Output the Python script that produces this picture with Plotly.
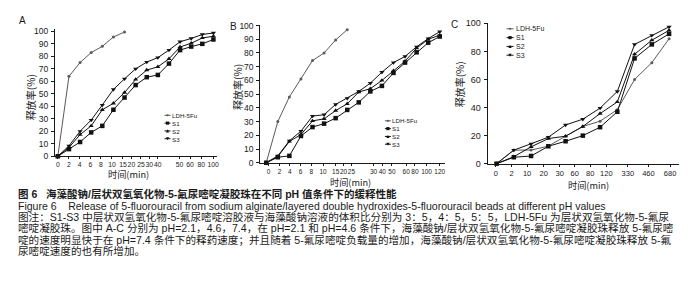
import plotly.graph_objects as go

W, H = 692, 282

# ---------------- data ----------------
series_names = ["LDH-5Fu", "S1", "S2", "S3"]

a_time = ["0", "2", "4", "6", "8", "10", "15", "20", "25", "30", "40", "50", "60", "80", "100"]
a_ldh = [0, 64, 75, 83, 88, 95.5, 99.5]
a_s1 = [0, 5.7, 11.4, 19.1, 24.3, 37.2, 47, 57, 63.3, 65.1, 74.2, 85, 87.8, 90, 93.5]
a_s2 = [0, 7, 17.3, 24.3, 37.2, 42.4, 51, 61.5, 69, 71.6, 78, 87.5, 90.5, 94.7, 96.1]
a_s3 = [0, 8.3, 20, 29, 41, 53.5, 62, 70, 75.4, 79, 85, 91.7, 94.3, 97.5, 98.7]

b_time = ["0", "2", "4", "6", "8", "10", "15", "20", "25", "30", "40", "50", "60", "80", "100", "120"]
b_ldh = [0, 30, 48, 61, 74.5, 80, 89.5, 97]
b_s1 = [0, 4, 5, 19.5, 26, 28.5, 32.5, 38.5, 44, 52, 56, 65.5, 73, 80.5, 87.5, 92]
b_s2 = [0, 4.5, 15.5, 20.5, 30.5, 32, 38, 43, 51.5, 54, 60, 67, 74, 83.5, 90, 93]
b_s3 = [0, 5, 16, 23, 34, 35, 42.5, 47, 52, 58, 66, 73, 77.5, 84.5, 90.5, 95.5]

c_time = ["0", "2", "10", "20", "30", "60", "80", "120", "330", "460", "680"]
c_ldh = [0, 9.7, 9.7, 12.5, 19.6, 26.5, 30.3, 38.5, 60, 72, 89]
c_s1 = [0, 4.6, 5.5, 12.4, 16, 20, 26, 37, 75, 85, 92.5]
c_s2 = [0, 5, 12, 17.9, 19.6, 26.5, 35.7, 44, 78, 88, 95]
c_s3 = [0, 9.7, 14.2, 18.9, 27.6, 31.7, 39.6, 51.5, 85, 91.5, 97.5]

y_title = "释放率(%)"
x_title = "时间(min)"

caption = [
    "<b>图 6\u00a0\u00a0\u00a0海藻酸钠/层状双氢氧化物-5-氟尿嘧啶凝胶珠在不同 pH 值条件下的缓释性能</b>",
    "Figure 6\u00a0\u00a0\u00a0\u00a0Release of 5-fluorouracil from sodium alginate/layered double hydroxides-5-fluorouracil beads at different pH values",
    "图注：S1-S3 中层状双氢氧化物-5-氟尿嘧啶溶胶液与海藻酸钠溶液的体积比分别为 3：5，4：5，5：5，LDH-5Fu 为层状双氢氧化物-5-氟尿",
    "嘧啶凝胶珠。图中 A-C 分别为 pH=2.1，4.6，7.4，在 pH=2.1 和 pH=4.6 条件下，海藻酸钠/层状双氢氧化物-5-氟尿嘧啶凝胶珠释放 5-氟尿嘧",
    "啶的速度明显快于在 pH=7.4 条件下的释药速度；并且随着 5-氟尿嘧啶负载量的增加，海藻酸钠/层状双氢氧化物-5-氟尿嘧啶凝胶珠释放 5-氟",
    "尿嘧啶速度的也有所增加。",
]

# ---------------- layout constants (pixels) ----------------
# tick label positions (in category-index units) as printed in the original
A_TICK_POS = [0, 0.99, 1.96, 2.93, 3.88, 4.87, 5.86, 6.62, 7.48, 8.23, 9.0, 10.95, 11.9, 12.9, 13.97]
B_TICK_POS = [0.2, 1.14, 2.04, 2.96, 3.89, 4.91, 6.0, 6.68, 7.36, 9.28, 10.03, 10.87, 12.1, 12.85, 13.86, 15.0]
C_TICK_POS = [-0.04, 0.87, 1.77, 2.73, 3.66, 4.53, 5.43, 6.36, 7.61, 8.8, 10.06]

PANELS = [
    dict(xl=47, xr=210, x0=50, xN=206, yb=149, y100=20, yt=18, dt=10, yf=8.5, xf=6.8),
    dict(xl=253, xr=438, x0=259, xN=433, yb=155.7, y100=14, yt=13, dt=10, yf=8.5, xf=6.5),
    dict(xl=481, xr=673, x0=490, xN=663, yb=156.7, y100=11.7, yt=11, dt=20, yf=9, xf=7.5),
]

FONT = "Liberation Sans, Arial, Noto Sans CJK SC, sans-serif"
CJK = "Noto Sans CJK SC, Liberation Sans, sans-serif"
INK = "#1a1a1a"


def px(x):
    return x / W


def py(y):
    return 1 - y / H


fig = go.Figure()

panel_data = [
    (a_time, [a_ldh, a_s1, a_s2, a_s3], A_TICK_POS),
    (b_time, [b_ldh, b_s1, b_s2, b_s3], B_TICK_POS),
    (c_time, [c_ldh, c_s1, c_s2, c_s3], C_TICK_POS),
]

styles = {
    "LDH-5Fu": dict(symbol="circle", size=3, color="#5a5a5a"),
    "S1": dict(symbol="square", size=4.5, color="#111111"),
    "S2": dict(symbol="triangle-up", size=4.5, color="#111111"),
    "S3": dict(symbol="triangle-down", size=4.5, color="#111111"),
}

for k, ((times, sers, tpos), P) in enumerate(zip(panel_data, PANELS)):
    xa = "x" if k == 0 else f"x{k+1}"
    ya = "y" if k == 0 else f"y{k+1}"
    n = len(times)
    step = (P["xN"] - P["x0"]) / (n - 1)
    xr = [(P["xl"] - P["x0"]) / step, (P["xr"] - P["x0"]) / step]
    per = (P["yb"] - P["y100"]) / 100
    yr = [0, (P["yb"] - P["yt"]) / per]
    for name, s in zip(series_names, sers):
        st = styles[name]
        fig.add_trace(go.Scatter(
            x=list(range(len(s))), y=s, mode="lines+markers", name=name,
            xaxis=xa, yaxis=ya, showlegend=False, cliponaxis=False,
            line=dict(color=st["color"], width=1),
            marker=dict(symbol=st["symbol"], size=st["size"], color=st["color"],
                        line=dict(width=0)),
        ))
    xkey = "xaxis" if k == 0 else f"xaxis{k+1}"
    ykey = "yaxis" if k == 0 else f"yaxis{k+1}"
    fig.layout[xkey] = dict(
        domain=[px(P["xl"]), px(P["xr"])], range=xr, anchor=ya,
        showline=True, linecolor=INK, linewidth=1, showgrid=False, zeroline=False,
        tickmode="array", tickvals=tpos, ticktext=times, ticks="outside",
        ticklen=2, tickwidth=1, tickcolor=INK, tickangle=0,
        tickfont=dict(family=FONT, size=P["xf"], color=INK), fixedrange=True,
    )
    fig.layout[ykey] = dict(
        domain=[py(P["yb"]), py(P["yt"])], range=yr, anchor=xa,
        showline=True, linecolor=INK, linewidth=1, showgrid=False, zeroline=False,
        tickmode="linear", tick0=0, dtick=P["dt"], ticks="outside",
        ticklen=3, tickwidth=1, tickcolor=INK, ticklabelstandoff=1,
        tickfont=dict(family=FONT, size=P["yf"], color=INK), fixedrange=True,
    )

annotations = []
shapes = []


def text(x, y, t, size, xanchor="center", family=FONT, angle=0, color=INK, align="center"):
    annotations.append(dict(
        x=px(x), y=py(y), xref="paper", yref="paper", text=t, showarrow=False,
        xanchor=xanchor, yanchor="middle", textangle=angle, align=align,
        borderpad=0,
        font=dict(family=family, size=size, color=color),
    ))


# panel letters
text(15, 9, "A", 10)
text(226, 15, "B", 10)
text(448, 13, "C", 10)

# axis titles
text(22, 88, y_title, 10, family=CJK, angle=-90)
text(230, 77, y_title, 10, family=CJK, angle=-90)
text(453, 75, y_title, 10, family=CJK, angle=-90)
text(121, 167.5, x_title, 9.2, family=CJK)
text(343, 175.5, x_title, 9.2, family=CJK)
text(582, 179, x_title, 9.2, family=CJK)


# legends (glyph shapes + one multi-line text block)
def legend(x0, x1, xt, yc, fsize):
    xm = (x0 + x1) / 2
    gap = 1.3 * fsize
    ys = [yc + (i - 1.5) * gap for i in range(len(series_names))]
    for name, y in zip(series_names, ys):
        st = styles[name]
        shapes.append(dict(type="line", xref="paper", yref="paper",
                           x0=px(x0), x1=px(x1), y0=py(y), y1=py(y),
                           line=dict(color=st["color"], width=1)))
        r = 1.6
        if st["symbol"] == "square":
            shapes.append(dict(type="rect", xref="paper", yref="paper",
                               x0=px(xm - r), x1=px(xm + r), y0=py(y + r), y1=py(y - r),
                               fillcolor=st["color"], line=dict(width=0)))
        elif st["symbol"] == "triangle-up":
            path = f"M{px(xm - r)},{py(y + r)} L{px(xm + r)},{py(y + r)} L{px(xm)},{py(y - r)} Z"
            shapes.append(dict(type="path", xref="paper", yref="paper", path=path,
                               fillcolor=st["color"], line=dict(width=0)))
        elif st["symbol"] == "triangle-down":
            path = f"M{px(xm - r)},{py(y - r)} L{px(xm + r)},{py(y - r)} L{px(xm)},{py(y + r)} Z"
            shapes.append(dict(type="path", xref="paper", yref="paper", path=path,
                               fillcolor=st["color"], line=dict(width=0)))
        else:
            shapes.append(dict(type="circle", xref="paper", yref="paper",
                               x0=px(xm - 1.1), x1=px(xm + 1.1), y0=py(y + 1.1), y1=py(y - 1.1),
                               fillcolor=st["color"], line=dict(width=0)))
    text(xt, yc, "<br>".join(series_names), fsize, xanchor="left", align="left")


legend(157, 163, 163, 118.8, 6.2)
legend(378, 384, 384.5, 124.5, 6.2)
legend(500, 507, 508, 31, 7)

# caption
cap_y = [188, 200, 212, 223.5, 235, 247]
cap_size = [10.5, 10.5, 10.6, 10.6, 10.6, 10.6]
for t, y, s in zip(caption, cap_y, cap_size):
    text(9, y, t, s, xanchor="left", family=FONT, align="left")

fig.update_layout(
    width=W, height=H, margin=dict(l=0, r=0, t=0, b=0),
    paper_bgcolor="white", plot_bgcolor="white",
    annotations=annotations, shapes=shapes, showlegend=False,
)

fig.write_html("out.html", config={"displayModeBar": False})
